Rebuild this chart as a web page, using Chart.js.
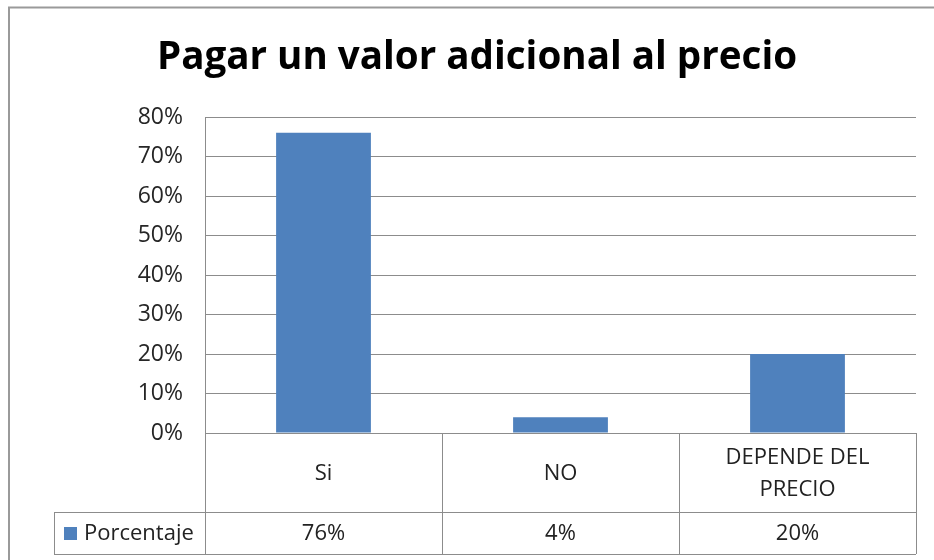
<!DOCTYPE html>
<html>
<head>
<meta charset="utf-8">
<script src="https://cdn.jsdelivr.net/npm/chart.js@4"></script>
<style>
html,body{margin:0;padding:0;background:#fff;}
#wrap{position:absolute;left:0;top:0;width:934px;height:560px;}
</style>
</head>
<body>
<div id="wrap"><canvas id="c" width="934" height="560"></canvas></div>
<script>
const title = "Pagar un valor adicional al precio";
const categories = [["Si"], ["NO"], ["DEPENDE DEL", "PRECIO"]];
const seriesName = "Porcentaje";
const values = [76, 4, 20];
const tickLabels = ["0%", "10%", "20%", "30%", "40%", "50%", "60%", "70%", "80%"];

const FONT = "'Open Sans', sans-serif";
const BLUE = "#4f81bd";
const LINE = "#8c8c8c";

const tablePlugin = {
  id: 'dataTable',
  afterDraw(chart) {
    const ctx = chart.ctx;
    const x = chart.scales.x, area = chart.chartArea;
    const n = categories.length;
    const half = (x.getPixelForValue(1) - x.getPixelForValue(0)) / 2;
    const top = area.bottom, mid = 512, bot = 554, legL = 54;
    ctx.save();
    ctx.strokeStyle = "#9a9a9a"; ctx.lineWidth = 2;
    ctx.beginPath(); ctx.moveTo(9, 560); ctx.lineTo(9, 7.5); ctx.lineTo(934, 7.5); ctx.stroke();
    ctx.strokeStyle = LINE; ctx.lineWidth = 1;
    ctx.beginPath();
    ctx.moveTo(area.left, top + 0.5); ctx.lineTo(area.right, top + 0.5);
    ctx.moveTo(legL, mid + 0.5); ctx.lineTo(area.right, mid + 0.5);
    ctx.moveTo(legL, bot + 0.5); ctx.lineTo(area.right, bot + 0.5);
    ctx.moveTo(legL + 0.5, mid); ctx.lineTo(legL + 0.5, bot);
    for (let i = 0; i <= n; i++) {
      const px = Math.round(x.getPixelForValue(i) - half) + 0.5;
      ctx.moveTo(px, top); ctx.lineTo(px, bot);
    }
    ctx.stroke();
    ctx.fillStyle = "#222";
    ctx.font = "22px " + FONT;
    ctx.textAlign = "center"; ctx.textBaseline = "middle";
    for (let i = 0; i < n; i++) {
      const cx = x.getPixelForValue(i);
      const lines = categories[i];
      const lh = 32;
      const cy = (top + mid) / 2 + 1;
      lines.forEach((t, j) => {
        ctx.fillText(t, cx, cy + (j - (lines.length - 1) / 2) * lh);
      });
      ctx.fillText(values[i] + "%", cx, (mid + bot) / 2 + 1);
    }
    ctx.fillStyle = BLUE;
    ctx.fillRect(64, 527, 13, 13);
    ctx.fillStyle = "#222";
    ctx.textAlign = "left";
    ctx.fillText(seriesName, 84, (mid + bot) / 2 + 1);
    ctx.restore();
  }
};

new Chart(document.getElementById('c'), {
  type: 'bar',
  data: {
    labels: categories.map(c => c.join(" ")),
    datasets: [{ label: seriesName, data: values, backgroundColor: BLUE, borderWidth: 0,
      categoryPercentage: 1, barPercentage: 0.4 }]
  },
  options: {
    responsive: false, animation: false,
    layout: { padding: { left: 38, right: 18, top: 0, bottom: 0 } },
    plugins: {
      legend: { display: false }, tooltip: { enabled: false },
      title: { display: true, text: title, color: "#000",
        font: { family: FONT, size: 38.6, weight: 'bold', lineHeight: 1.2 },
        padding: { top: 35, bottom: 35.7 } }
    },
    scales: {
      x: {
        ticks: { display: false },
        grid: { display: false, drawTicks: false },
        border: { display: false },
        afterFit(s) { s.height = 127; }
      },
      y: {
        min: 0, max: 80,
        ticks: { stepSize: 10, color: "#262626", padding: 22,
          font: { family: FONT, size: 23 },
          callback: (v) => tickLabels[Math.round(v / 10)] },
        grid: { color: LINE, drawTicks: false },
        border: { display: true, color: LINE },
        afterFit(s) { s.width = 167; }
      }
    }
  },
  plugins: [tablePlugin]
});
</script>
</body>
</html>
